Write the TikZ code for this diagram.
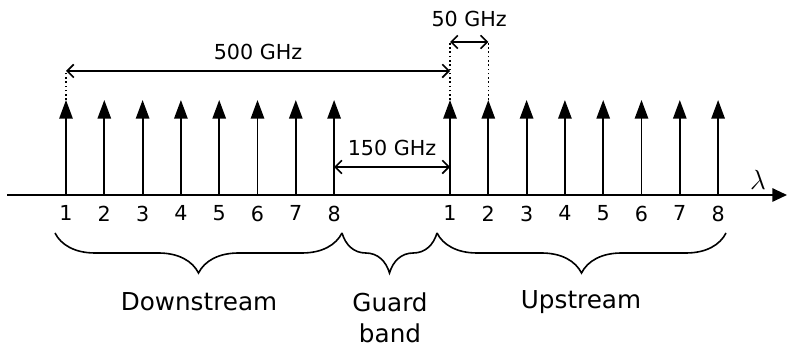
\documentclass[tikz,border=0pt]{standalone}
\usepackage{fontspec}
\setmainfont{DejaVu Sans}
\usetikzlibrary{arrows.meta,positioning,decorations.pathreplacing}

\begin{document}
\begin{tikzpicture}[
    x=0.75pt, y=0.75pt,
    axis/.style={-{Triangle[length=11pt,width=10pt]}, line width=1.4pt},
    chan/.style={-{Triangle[length=14pt,width=10pt]}, line width=1.4pt},
    dim/.style={{Straight Barb[length=5pt,width=10pt]}-{Straight Barb[length=5pt,width=10pt]}, line width=1.2pt},
    guide/.style={dotted, line width=1.2pt},
    brc/.style={decorate, decoration={brace, mirror, amplitude=30pt}, line width=1.2pt},
    lbl/.style={font=\fontsize{15.5}{22}\selectfont, inner sep=1pt},
    band/.style={font=\fontsize{18.5}{23}\selectfont, inner sep=1pt}
]
    \useasboundingbox (0,0) rectangle (787,349);

    % wavelength axis
    \coordinate (org) at (7,154);
    \coordinate (axend) at (787,154);
    \draw [axis] (org) -- (axend);
    \node [font=\fontsize{21}{24}\selectfont, inner sep=0pt] (lam) at (758,169) {$\lambda$};

    % channels
    \foreach \i in {1,...,8} {
        \pgfmathsetmacro{\xd}{66+38.3*(\i-1)}
        \pgfmathsetmacro{\xu}{450+38.3*(\i-1)}
        \coordinate (d\i) at (\xd,154);
        \coordinate (dt\i) at (\xd,249);
        \coordinate (u\i) at (\xu,154);
        \coordinate (ut\i) at (\xu,249);
        \draw [chan] (d\i) -- (dt\i);
        \draw [chan] (u\i) -- (ut\i);
        \node [lbl, below=7pt of d\i] (nd\i) {\i};
        \node [lbl, below=7pt of u\i] (nu\i) {\i};
    }

    % spacings
    \coordinate (g500l) at (66,278);
    \coordinate (g500r) at (450,278);
    \coordinate (g50l) at (450,307);
    \coordinate (g50r) at (488.3,307);
    \coordinate (g150l) at (334.1,182);
    \coordinate (g150r) at (450,182);

    \draw [guide] (dt1) -- (g500l);
    \draw [guide] (ut1) -- (g50l);
    \draw [guide] (ut2) -- (g50r);

    \draw [dim] (g500l) -- (g500r) node [lbl, midway, above=7pt] (f500) {500 GHz};
    \draw [dim] (g150l) -- (g150r) node [lbl, midway, above=7pt] (f150) {150 GHz};
    \draw [dim] (g50l) -- (g50r) node [lbl, midway, above=10pt] (f50) {50 GHz};

    % bands
    \coordinate (b0) at (55,116);
    \coordinate (b1) at (342,116);
    \coordinate (b2) at (437,116);
    \coordinate (b3) at (726,116);
    \draw [brc] (b0) -- (b1);
    \draw [brc] (b1) -- (b2);
    \draw [brc] (b2) -- (b3);

    \node [band] (down) at (199,47) {Downstream};
    \node [band, align=center] (guard) at (390,31.5) {Guard\\band};
    \node [band] (up) at (581,47) {Upstream};

\end{tikzpicture}
\end{document}
